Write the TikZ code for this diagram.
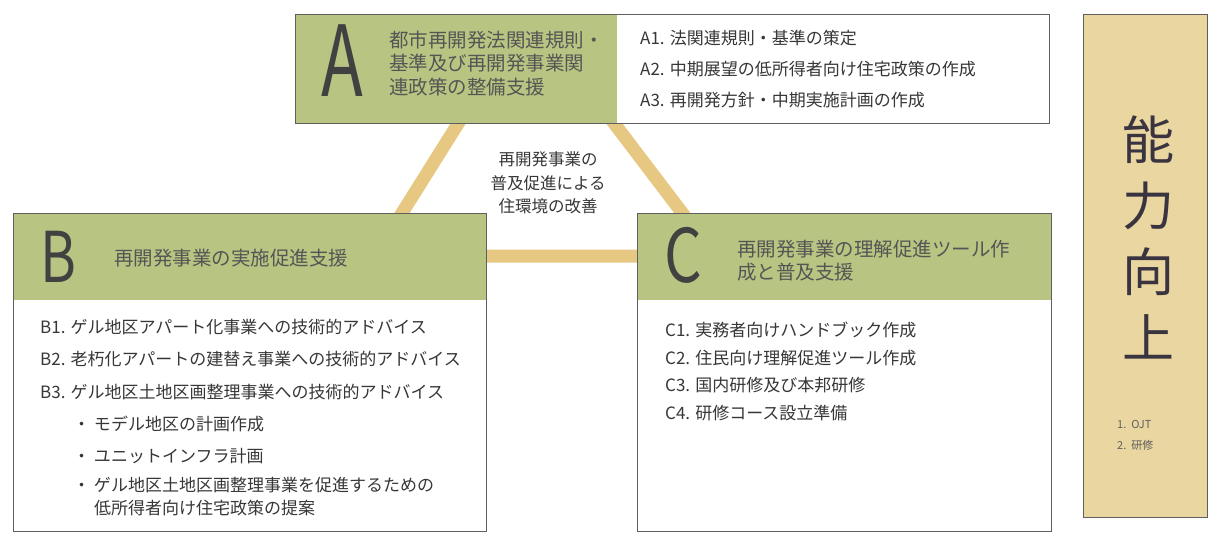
\documentclass[tikz,border=0pt]{standalone}
\usepackage{fontspec}
\setmainfont{Noto Sans CJK JP}
\definecolor{leaf}{RGB}{184,197,130}
\definecolor{sand}{RGB}{233,214,160}
\definecolor{gold}{RGB}{230,200,130}
\definecolor{ink}{RGB}{55,55,55}
\definecolor{frame}{RGB}{95,95,95}

\begin{document}
\begin{tikzpicture}[x=1pt,y=-1pt,
  box/.style={draw=frame,line width=0.9pt},
  item/.style={anchor=west,inner sep=0,text=ink,font=\fontsize{17}{23}\selectfont},
  title/.style={anchor=west,inner sep=0,align=left,text=ink!85,font=\fontsize{19.5}{23.5}\selectfont},
  letter/.style={inner sep=0,text=ink!95}]
  \def\ax{295};
  \def\am{617};
  \def\aX{1049};
  \def\ay{14};
  \def\aY{123};
  \def\bx{13};
  \def\bX{486};
  \def\cx{637};
  \def\cX{1051};
  \def\ry{213};
  \def\rh{300};
  \def\rY{531};
  \useasboundingbox (0,0) rectangle (1208,533);
  \fill[white] (0,0) rectangle (1208,533);
  % triangle behind the boxes
  \coordinate (topL) at (498,60);
  \coordinate (baseL) at (375,256);
  \coordinate (baseR) at (715,256);
  \coordinate (topR) at (566,60);
  \draw[gold,line width=13pt] (topL)--(baseL)--(baseR)--(topR);
  % A
  \fill[leaf] (\ax,\ay) rectangle (\am,\aY);
  \fill[white] (\am,\ay) rectangle (\aX,\aY);
  \draw[box] (\ax,\ay) rectangle (\aX,\aY);
  \node[letter,font=\fontsize{98}{98}\selectfont] (letA) at (342,61) {\scalebox{0.7}[1]{A}};
  \node[title] (titleA) at (389,63.5) {都市再開発法関連規則・\\基準及び再開発事業関\\連政策の整備支援};
  \node[item] (a1) at (640,38) {A1. 法関連規則・基準の策定};
  \node[item] (a2) at (640,69) {A2. 中期展望の低所得者向け住宅政策の作成};
  \node[item] (a3) at (640,100) {A3. 再開発方針・中期実施計画の作成};
  % B
  \fill[white] (\bx,\ry) rectangle (\bX,\rY);
  \fill[leaf] (\bx,\ry) rectangle (\bX,\rh);
  \draw[box] (\bx,\ry) rectangle (\bX,\rY);
  \node[letter,font=\fontsize{70}{70}\selectfont] (letB) at (58,257) {\scalebox{0.78}[1]{B}};
  \node[title] (titleB) at (114,258) {再開発事業の実施促進支援};
  \node[item] (b1) at (40,327) {B1. ゲル地区アパート化事業への技術的アドバイス};
  \node[item] (b2) at (40,359) {B2. 老朽化アパートの建替え事業への技術的アドバイス};
  \node[item] (b3) at (40,392) {B3. ゲル地区土地区画整理事業への技術的アドバイス};
  \node[item] (b31) at (73,424) {・ モデル地区の計画作成};
  \node[item] (b32) at (73,456) {・ ユニットインフラ計画};
  \node[item,align=left,anchor=north west] (b33) at (73,477) {・ ゲル地区土地区画整理事業を促進するための\\\phantom{・ }低所得者向け住宅政策の提案};
  % C
  \fill[white] (\cx,\ry) rectangle (\cX,\rY);
  \fill[leaf] (\cx,\ry) rectangle (\cX,\rh);
  \draw[box] (\cx,\ry) rectangle (\cX,\rY);
  \node[letter,font=\fontsize{74}{74}\selectfont] (letC) at (683,255) {\scalebox{0.8}[1]{C}};
  \node[title] (titleC) at (737,260.5) {再開発事業の理解促進ツール作\\成と普及支援};
  \node[item] (c1) at (665,330) {C1. 実務者向けハンドブック作成};
  \node[item] (c2) at (665,358) {C2. 住民向け理解促進ツール作成};
  \node[item] (c3) at (665,385) {C3. 国内研修及び本邦研修};
  \node[item] (c4) at (665,413) {C4. 研修コース設立準備};
  % centre of the triangle
  \node[inner sep=0,align=center,text=ink,font=\fontsize{16.5}{23.5}\selectfont] (goal) at (548,183) {再開発事業の\\普及促進による\\住環境の改善};
  % capacity
  \fill[sand] (1083,14) rectangle (1207,517);
  \draw[box] (1083,14) rectangle (1207,517);
  \node[inner sep=0,align=center,text={rgb,255:red,58;green,52;blue,64},font=\fontsize{52}{66}\selectfont] (cap) at (1148,237) {能\\力\\向\\上};
  \node[inner sep=0,anchor=west,align=left,text=ink!80,font=\fontsize{11}{21}\selectfont] (capItems) at (1117,435.5) {1.\ \ OJT\\2.\ \ 研修};
\end{tikzpicture}
\end{document}
